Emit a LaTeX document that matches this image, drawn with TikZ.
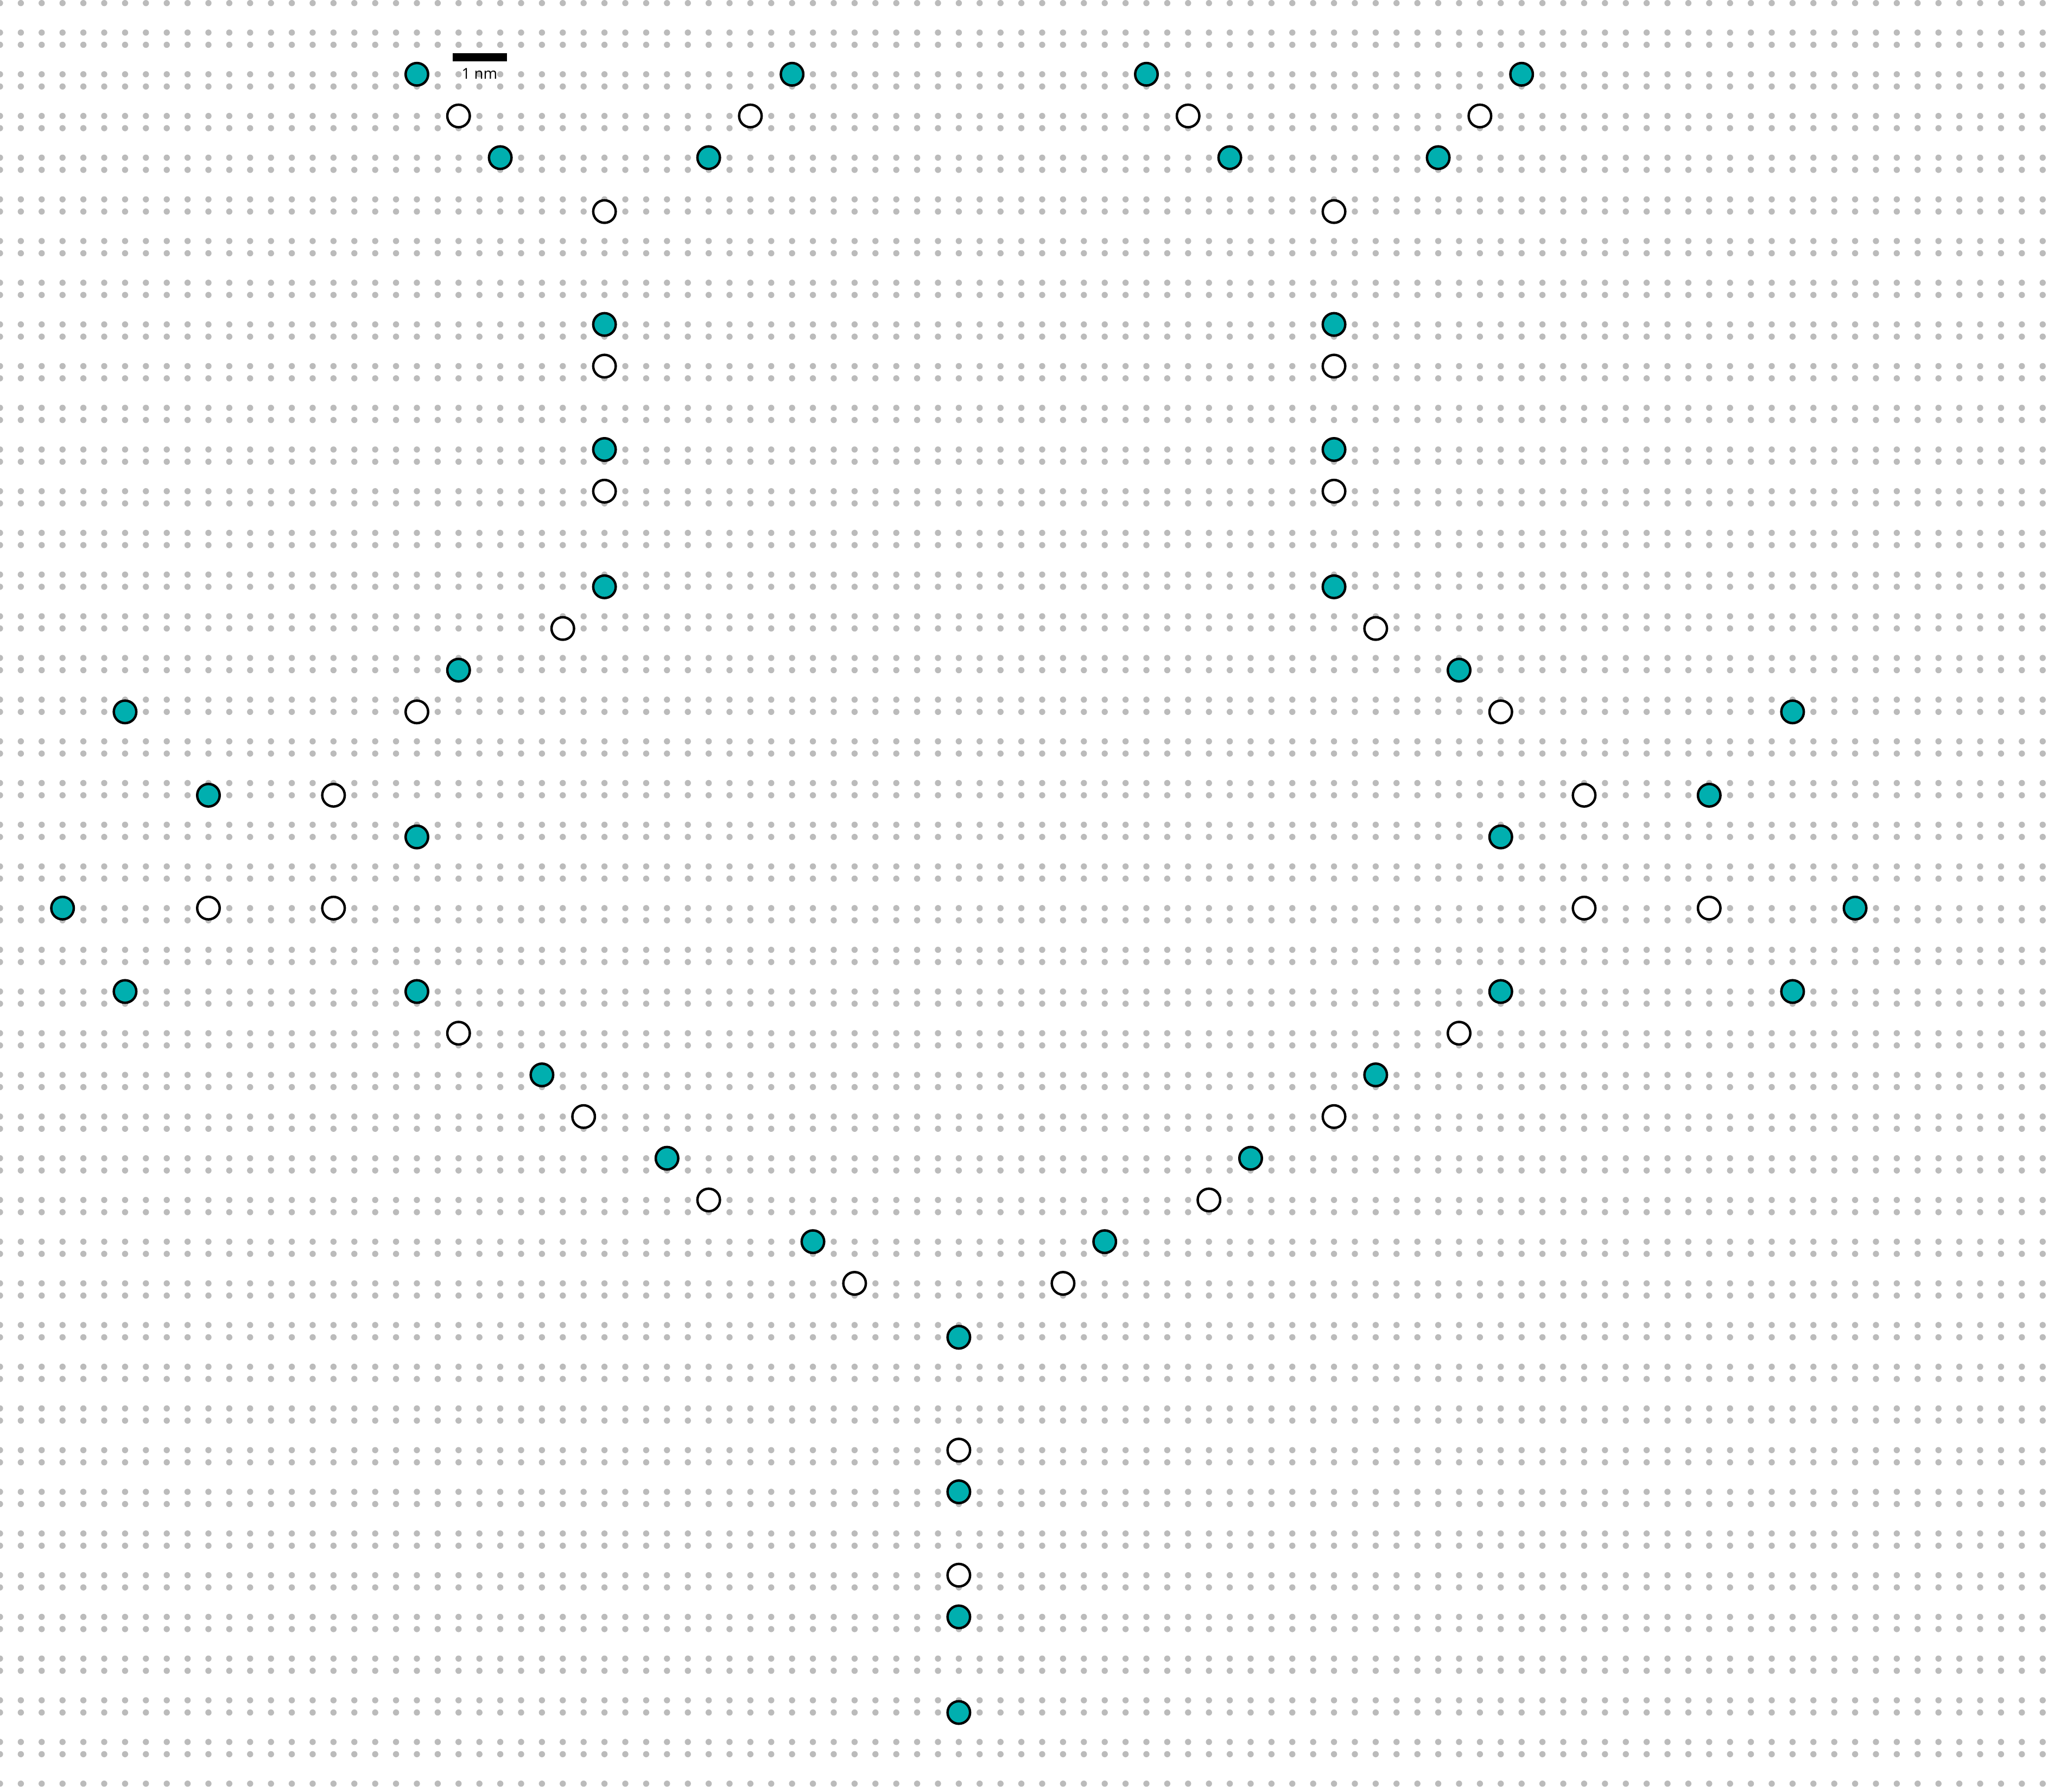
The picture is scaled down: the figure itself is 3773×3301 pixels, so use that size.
\documentclass[tikz,border=0pt]{standalone}
\usepackage{fontspec}
\setmainfont{Open Sans}
\definecolor{dotgray}{RGB}{187,187,187}
\definecolor{tealfill}{RGB}{0,175,175}
\begin{document}
\begin{tikzpicture}[x=0.25pt,y=-0.25pt,
  site/.style={circle,draw=black,line width=1.125pt,minimum size=10.375pt,inner sep=0pt},
  tealsite/.style={site,fill=tealfill},
  opensite/.style={site,fill=white},
  griddot/.style={fill=dotgray}]
\useasboundingbox (0,0) rectangle (3773,3301);
\fill[white] (0,0) rectangle (3773,3301);
% lattice of grey dots
\foreach \k in {0,...,42} {
  \fill[griddot] foreach \n in {0,...,98} {({38.4*\n},{60+76.8*\k}) circle[radius=5.7]};
}
\foreach \k in {-1,...,41} {
  \fill[griddot] foreach \n in {0,...,98} {({38.4*\n},{82.5+76.8*\k}) circle[radius=5.7]};
}
% teal sites on A rows
\foreach \n/\k [count=\i] in {20/1,38/1,55/1,73/1, 24/3,34/3,59/3,69/3, 29/7,64/7, 29/10,64/10,
  3/21,89/21, 6/23,20/23,72/23,86/23, 26/25,66/25, 32/27,60/27, 39/29,53/29, 46/35, 46/38}
  \node[tealsite] (tA\i) at ({38.4*\n},{60+76.8*\k}) {};
% open sites on A rows
\foreach \n/\k [count=\i] in {22/2,36/2,57/2,71/2, 29/8,64/8, 29/11,64/11, 10/21,16/21,76/21,82/21,
  22/24,70/24, 28/26,64/26, 34/28,58/28, 41/30,51/30, 46/34, 46/37}
  \node[opensite] (oA\i) at ({38.4*\n},{60+76.8*\k}) {};
% teal sites on B rows
\foreach \n/\k [count=\i] in {29/13,64/13, 22/15,70/15, 6/16,86/16, 10/18,82/18, 20/19,72/19, 46/31, 46/40}
  \node[tealsite] (tB\i) at ({38.4*\n},{82.5+76.8*\k}) {};
% open sites on B rows
\foreach \n/\k [count=\i] in {29/4,64/4, 27/14,66/14, 20/16,72/16, 16/18,76/18}
  \node[opensite] (oB\i) at ({38.4*\n},{82.5+76.8*\k}) {};
% scale bar
\node[fill=black,inner sep=0pt,minimum width=25pt,minimum height=3.75pt] (bar) at (883.5,105) {};
\node[anchor=base,inner sep=0pt,font=\fontsize{6.9}{8}\selectfont] (lbl) at (883.5,145.7) {1 nm};
\end{tikzpicture}
\end{document}
